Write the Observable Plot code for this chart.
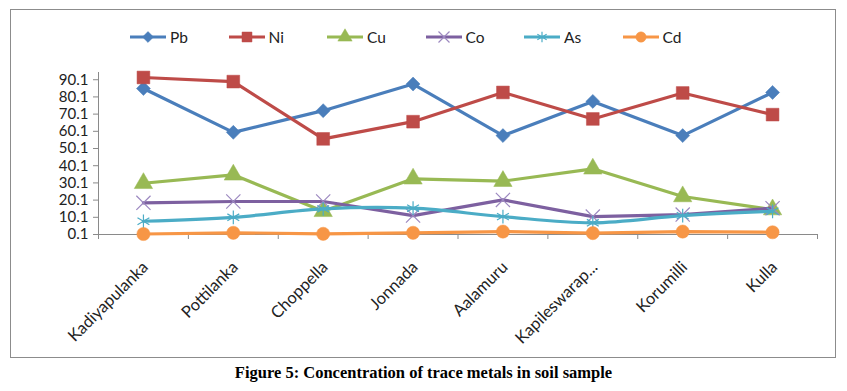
<!DOCTYPE html>
<html><head><meta charset="utf-8">
<script src="https://cdn.jsdelivr.net/npm/d3@7"></script>
<script src="https://cdn.jsdelivr.net/npm/@observablehq/plot@0.6"></script>
<style>
body{margin:0;background:#fff;width:847px;height:391px;position:relative;overflow:hidden;font-family:Lato,sans-serif;}
#frame{position:absolute;left:10px;top:9px;width:824px;height:347px;border:1.5px solid #8c8c8c;}
#chart{position:absolute;left:0;top:0;}
#legend{position:absolute;top:26px;left:0;width:847px;height:22px;}
.item{position:absolute;top:0;height:22px;display:flex;align-items:center;font-size:15.5px;color:#222;}
.item svg{margin-right:3px;}
#caption{position:absolute;top:363px;left:0;width:847px;text-align:center;font:bold 16.5px "Liberation Serif","Times New Roman",serif;color:#000;}
</style></head>
<body>
<div id="frame"></div>
<div id="chart"></div>
<div id="legend"></div>
<div id="caption">Figure 5: Concentration of trace metals in soil sample</div>
<script>
const categories = ["Kadiyapulanka","Pottilanka","Choppella","Jonnada","Aalamuru","Kapileswarap...","Korumilli","Kulla"];
const pb = [85.0, 59.5, 72.1, 87.6, 57.6, 77.5, 57.6, 82.7];
const ni = [91.4, 89.0, 55.7, 65.7, 82.7, 67.3, 82.4, 69.8];
const cu = [29.9, 34.8, 13.6, 32.5, 31.1, 38.3, 22.2, 14.6];
const co = [18.5, 19.3, 19.3, 11.1, 20.2, 10.5, 11.7, 15.4];
const as = [7.8, 10.1, 15.0, 15.4, 10.5, 6.9, 11.1, 13.6];
const cd = [0.4, 1.1, 0.5, 1.1, 1.8, 0.9, 1.8, 1.4];
const yTickLabels = ["0.1","10.1","20.1","30.1","40.1","50.1","60.1","70.1","80.1","90.1"];
const seriesNames = ["Pb","Ni","Cu","Co","As","Cd"];

const style = [
  {color:"#4a7ebb", symbol:"diamond2", r:6.3, filled:true, curve:"linear"},
  {color:"#be4b48", symbol:"square", r:7.2, filled:true, curve:"linear"},
  {color:"#98b954", symbol:"triangle", r:6.8, filled:true, curve:"linear"},
  {color:"#7d60a0", mcolor:"#9c88c0", symbol:"times", r:6.5, filled:false, curve:"linear"},
  {color:"#4bacc6", mcolor:"#4bacc6", symbol:"asterisk", r:6.5, filled:false, curve:"catmull-rom"},
  {color:"#f79646", symbol:"circle", r:6.6, filled:true, curve:"linear"}
];
const seriesValues = [pb, ni, cu, co, as, cd];
const n = categories.length;
const yTicks = yTickLabels.map(Number);
const yTop = 94.3;

const marks = [
  Plot.ruleY([yTicks[0]], {x1: 0, x2: n, stroke: "#8a8a8a", strokeWidth: 1}),
  Plot.ruleX([0], {y1: yTicks[0], y2: yTop, stroke: "#8a8a8a", strokeWidth: 1}),
  Plot.axisY({ticks: yTicks, tickFormat: d => d.toFixed(1), tickSize: 5, tickPadding: 5, label: null, stroke: "#8a8a8a", fill: "#222", fontSize: 15}),
  Plot.axisX({ticks: d3.range(n + 1), tickSize: 5, tickFormat: () => "", label: null, stroke: "#8a8a8a"}),
  Plot.axisX({ticks: d3.range(n).map(i => i + 0.5), tickSize: 0, tickPadding: 30, tickRotate: -45, tickFormat: v => categories[Math.floor(v)], label: null, fill: "#222", fontSize: 16.5, dx: 2})
];
seriesNames.forEach((name, k) => {
  const s = style[k];
  const rows = seriesValues[k].map((v, i) => ({x: i + 0.5, v}));
  marks.push(Plot.line(rows, {x: "x", y: "v", stroke: s.color, strokeWidth: 3.2, curve: s.curve}));
  if (s.filled) {
    marks.push(Plot.dot(rows, {x: "x", y: "v", symbol: () => s.symbol, r: s.r, fill: s.color, stroke: s.color, strokeWidth: 0.5}));
  } else {
    marks.push(Plot.dot(rows, {x: "x", y: "v", symbol: () => s.symbol, r: s.r, fill: "none", stroke: s.mcolor, strokeWidth: 1.2}));
  }
});

const chart = Plot.plot({
  width: 847, height: 360,
  marginLeft: 98, marginRight: 30, marginTop: 72, marginBottom: 126,
  x: {type: "linear", domain: [0, n], axis: null},
  y: {domain: [yTicks[0], yTop], axis: null},
  symbol: {type: "identity"},
  style: {fontFamily: "Lato, sans-serif", fontSize: "15px", background: "transparent", overflow: "visible"},
  marks
});
document.getElementById("chart").appendChild(chart);

// legend
const legend = document.getElementById("legend");
const symMap = {diamond2: d3.symbolDiamond2, square: d3.symbolSquare, triangle: d3.symbolTriangle, times: d3.symbolTimes, asterisk: d3.symbolAsterisk, circle: d3.symbolCircle};
seriesNames.forEach((name, k) => {
  const s = style[k];
  const item = document.createElement("div");
  item.className = "item";
  item.style.left = (129 + k * 98.5) + "px";
  const sv = d3.create("svg").attr("width", 38).attr("height", 22);
  sv.append("line").attr("x1", 1).attr("x2", 37).attr("y1", 11).attr("y2", 11).attr("stroke", s.color).attr("stroke-width", 3);
  const r = s.r * 0.78;
  sv.append("path").attr("transform", "translate(19,11)")
    .attr("d", d3.symbol(symMap[s.symbol], Math.PI * r * r)())
    .attr("fill", s.filled ? s.color : "none")
    .attr("stroke", s.filled ? s.color : s.mcolor).attr("stroke-width", s.filled ? 0.5 : 1.2);
  item.appendChild(sv.node());
  const t = document.createElement("span");
  t.textContent = name;
  item.appendChild(t);
  legend.appendChild(item);
});
</script>
</body></html>
